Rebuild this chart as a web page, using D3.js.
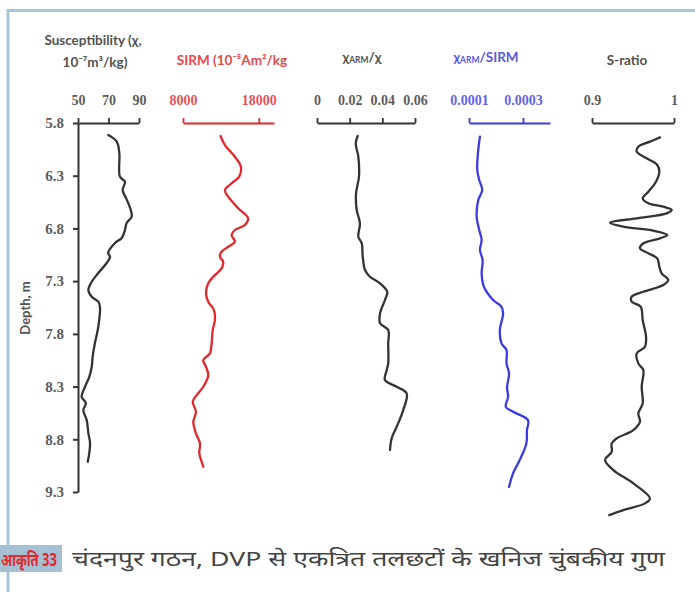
<!DOCTYPE html>
<html>
<head>
<meta charset="utf-8">
<script src="https://cdn.jsdelivr.net/npm/d3@7"></script>
<style>
  html, body { margin: 0; padding: 0; background: #fff; }
  svg { display: block; }
</style>
</head>
<body>
<svg id="chart" width="695" height="592"></svg>
<script>
// Magnetic property logs against depth (m)
const depthTicks = [5.8, 6.3, 6.8, 7.3, 7.8, 8.3, 8.8, 9.3];

// Susceptibility (χ, 10^-7 m3/kg)
const susDepth = [5.914, 5.977, 6.085, 6.309, 6.357, 6.436, 6.512, 6.625, 6.689, 6.749, 6.815, 6.891, 6.938, 7.033, 7.068, 7.128, 7.223, 7.306, 7.384, 7.448, 7.495, 7.543, 7.733, 7.887, 8.017, 8.112, 8.207, 8.302, 8.397, 8.457, 8.523, 8.618, 8.741, 8.836, 8.931, 9.013];
const susValue = [69.9, 75.4, 77.1, 77.5, 80.8, 79.3, 81.5, 84.6, 85.2, 81.9, 80.8, 78.7, 74.3, 69.7, 71.0, 68.8, 63.3, 59.0, 56.8, 59.0, 63.3, 64.4, 63.3, 61.1, 59.6, 59.0, 57.4, 54.6, 52.4, 55.2, 53.5, 55.7, 56.8, 57.9, 57.4, 56.4];
const susTicks = [50, 70, 90];

// SIRM (10^-5 Am2/kg)
const sirmDepth = [5.923, 6.009, 6.120, 6.215, 6.309, 6.372, 6.436, 6.499, 6.609, 6.704, 6.768, 6.815, 6.863, 6.926, 6.974, 7.021, 7.068, 7.116, 7.179, 7.258, 7.321, 7.416, 7.495, 7.574, 7.669, 7.764, 7.890, 7.985, 8.049, 8.112, 8.191, 8.302, 8.381, 8.444, 8.539, 8.634, 8.744, 8.839, 8.934, 9.013, 9.061];
const sirmValue = [12960, 13530, 14840, 15630, 15410, 14410, 13530, 13960, 15280, 16590, 16160, 14840, 14410, 14840, 13960, 13090, 12870, 13300, 13090, 11990, 11330, 11030, 11330, 12080, 12210, 11910, 11780, 11550, 10670, 11030, 11330, 10670, 9800, 9280, 9710, 9360, 9710, 10240, 10150, 10460, 10670];
const sirmTicks = [8000, 18000];

// χARM/χ
const armChiDepth = [5.923, 5.993, 6.120, 6.309, 6.467, 6.625, 6.752, 6.879, 6.941, 7.068, 7.195, 7.258, 7.321, 7.401, 7.479, 7.606, 7.700, 7.764, 7.890, 8.080, 8.143, 8.238, 8.302, 8.364, 8.523, 8.681, 8.791, 8.902];
const armChiValue = [0.0249, 0.0237, 0.0253, 0.0257, 0.0239, 0.0243, 0.0263, 0.0253, 0.0274, 0.0280, 0.0294, 0.0324, 0.0386, 0.0430, 0.0416, 0.0386, 0.0386, 0.0436, 0.0436, 0.0436, 0.0427, 0.0416, 0.0488, 0.0549, 0.0528, 0.0488, 0.0457, 0.0447];
const armChiTicks = [0, 0.02, 0.04, 0.06];

// χARM/SIRM
const armSirmDepth = [5.930, 6.056, 6.246, 6.341, 6.436, 6.531, 6.689, 6.815, 6.910, 7.005, 7.100, 7.226, 7.353, 7.479, 7.543, 7.606, 7.764, 7.890, 7.954, 8.080, 8.175, 8.302, 8.397, 8.492, 8.539, 8.618, 8.713, 8.839, 8.997, 9.124, 9.251];
const armSirmValue = [0.0001405, 0.0001343, 0.0001306, 0.0001379, 0.0001490, 0.0001343, 0.0001284, 0.0001379, 0.0001468, 0.0001405, 0.0001505, 0.0001468, 0.0001552, 0.0001895, 0.0002204, 0.0002263, 0.0002142, 0.0002204, 0.0002389, 0.0002389, 0.0002484, 0.0002411, 0.0002447, 0.0002363, 0.0002632, 0.0003184, 0.0003147, 0.0003125, 0.0002878, 0.0002632, 0.0002484];
const armSirmTicks = [0.0001, 0.0003];

// S-ratio
const sDepth = [5.936, 5.977, 6.025, 6.072, 6.135, 6.198, 6.262, 6.357, 6.452, 6.514, 6.562, 6.594, 6.625, 6.657, 6.704, 6.746, 6.784, 6.822, 6.863, 6.894, 6.941, 6.989, 7.036, 7.084, 7.163, 7.226, 7.290, 7.337, 7.401, 7.448, 7.495, 7.543, 7.669, 7.828, 7.922, 7.985, 8.080, 8.143, 8.302, 8.459, 8.554, 8.634, 8.713, 8.791, 8.839, 8.919, 8.997, 9.092, 9.218, 9.361, 9.408, 9.472, 9.519];
const sValue = [0.9829, 0.9707, 0.9565, 0.9545, 0.9667, 0.9796, 0.9821, 0.9780, 0.9687, 0.9618, 0.9687, 0.9870, 0.9972, 0.9911, 0.9545, 0.9220, 0.9382, 0.9748, 0.9918, 0.9829, 0.9626, 0.9585, 0.9687, 0.9796, 0.9821, 0.9850, 0.9930, 0.9870, 0.9626, 0.9484, 0.9484, 0.9594, 0.9618, 0.9659, 0.9646, 0.9545, 0.9565, 0.9626, 0.9606, 0.9618, 0.9565, 0.9585, 0.9504, 0.9301, 0.9240, 0.9240, 0.9159, 0.9260, 0.9504, 0.9707, 0.9646, 0.9382, 0.9211];
const sTicks = [0.9, 1];

const captionLabel = "आकृति 33";
const captionText = "चंदनपुर गठन, DVP से एकत्रित तलछटों के खनिज चुंबकीय गुण";

const svg = d3.select("#chart");
const frameColor = "#a9c5d8";
const dark = "#333333";
const red = "#e0282d";
const blue = "#3b3be3";
const serif = "'Liberation Serif', 'Times New Roman', serif";
const sans = "Lato, 'Open Sans', sans-serif";

// Frame lines
svg.append("line").attr("x1", 8).attr("x2", 695).attr("y1", 10.5).attr("y2", 10.5)
  .attr("stroke", frameColor).attr("stroke-width", 3);
svg.append("line").attr("x1", 8).attr("x2", 8).attr("y1", 9).attr("y2", 592)
  .attr("stroke", frameColor).attr("stroke-width", 3);

const y = d3.scaleLinear().domain([5.8, 9.3]).range([123, 492]);

// Depth axis
const yAxis = svg.append("g").attr("transform", "translate(78,0)")
  .call(d3.axisLeft(y).tickValues(depthTicks).tickFormat(d3.format(".1f"))
    .tickSize(5).tickSizeOuter(0).tickPadding(9));
yAxis.select(".domain").attr("stroke", dark).attr("stroke-width", 2);
yAxis.selectAll(".tick line").attr("stroke", dark).attr("stroke-width", 2);
yAxis.selectAll(".tick text").attr("font-family", serif).attr("font-size", 15)
  .attr("fill", dark).attr("font-weight", "bold").attr("opacity", 0.8);

svg.append("text").attr("transform", "translate(30,308) rotate(-90)")
  .attr("text-anchor", "middle").attr("font-family", sans).attr("font-weight", "bold")
  .attr("font-size", 13).attr("fill", dark).attr("opacity", 0.85).text("Depth, m");

// One track per property
const tracks = [
  { depth: susDepth, value: susValue, ticks: susTicks, domain: [50, 90], range: [78, 139], color: dark },
  { depth: sirmDepth, value: sirmValue, ticks: sirmTicks, domain: [8000, 20000], range: [183, 274], color: red },
  { depth: armChiDepth, value: armChiValue, ticks: armChiTicks, domain: [0, 0.06], range: [317, 415], color: dark },
  { depth: armSirmDepth, value: armSirmValue, ticks: armSirmTicks, domain: [0.0001, 0.0004], range: [469, 550], color: blue },
  { depth: sDepth, value: sValue, ticks: sTicks, domain: [0.9, 1], range: [592, 674], color: dark }
];

tracks.forEach(t => {
  const x = d3.scaleLinear().domain(t.domain).range(t.range);
  const g = svg.append("g").attr("transform", "translate(0,123)")
    .call(d3.axisTop(x).tickValues(t.ticks).tickFormat(d => String(d))
      .tickSize(5).tickSizeOuter(0).tickPadding(13));
  g.select(".domain").attr("stroke", t.color).attr("stroke-width", 2.2);
  g.selectAll(".tick line").attr("stroke", t.color).attr("stroke-width", 1.8);
  g.selectAll(".tick text").attr("font-family", serif).attr("font-size", 14)
    .attr("font-weight", "bold").attr("fill", t.color).attr("opacity", 0.8);

  const pts = t.depth.map((d, i) => [x(t.value[i]), y(d)]);
  svg.append("path").datum(pts)
    .attr("d", d3.line().curve(d3.curveCatmullRom.alpha(0.5)))
    .attr("fill", "none").attr("stroke", t.color).attr("stroke-width", 2.3)
    .attr("stroke-linejoin", "round").attr("stroke-linecap", "round");
});

// Track titles
function title(xc, yb, color) {
  return svg.append("text").attr("x", xc).attr("y", yb).attr("text-anchor", "middle")
    .attr("font-family", sans).attr("font-weight", "bold").attr("font-size", 13.5)
    .attr("fill", color).attr("opacity", 0.85);
}
title(93, 45, dark).text("Susceptibility (χ,");
title(95, 67, dark).text("10⁻⁷m³/kg)");
title(232, 65, red).text("SIRM (10⁻⁵Am²/kg");

const t3 = title(362, 62, dark);
t3.append("tspan").text("χ");
t3.append("tspan").attr("font-size", 8.5).attr("dy", 1).text("ARM");
t3.append("tspan").attr("dy", -1).text("/χ");

const t4 = title(486, 62, blue);
t4.append("tspan").text("χ");
t4.append("tspan").attr("font-size", 8.5).attr("dy", 1).text("ARM");
t4.append("tspan").attr("dy", -1).text("/SIRM");

title(627, 65, dark).text("S-ratio");

// Caption
svg.append("rect").attr("x", 0).attr("y", 545).attr("width", 62).attr("height", 27)
  .attr("fill", "#a6c0d3");
svg.append("text").attr("x", 1).attr("y", 566)
  .attr("font-family", "'Noto Sans', sans-serif").attr("font-weight", "bold").attr("font-size", 18)
  .attr("fill", red).attr("textLength", 56).attr("lengthAdjust", "spacingAndGlyphs")
  .text(captionLabel);
svg.append("text").attr("x", 72).attr("y", 566)
  .attr("font-family", "'Noto Sans', sans-serif").attr("font-size", 20)
  .attr("fill", "#444").attr("textLength", 593).attr("lengthAdjust", "spacingAndGlyphs")
  .text(captionText);
</script>
</body>
</html>
